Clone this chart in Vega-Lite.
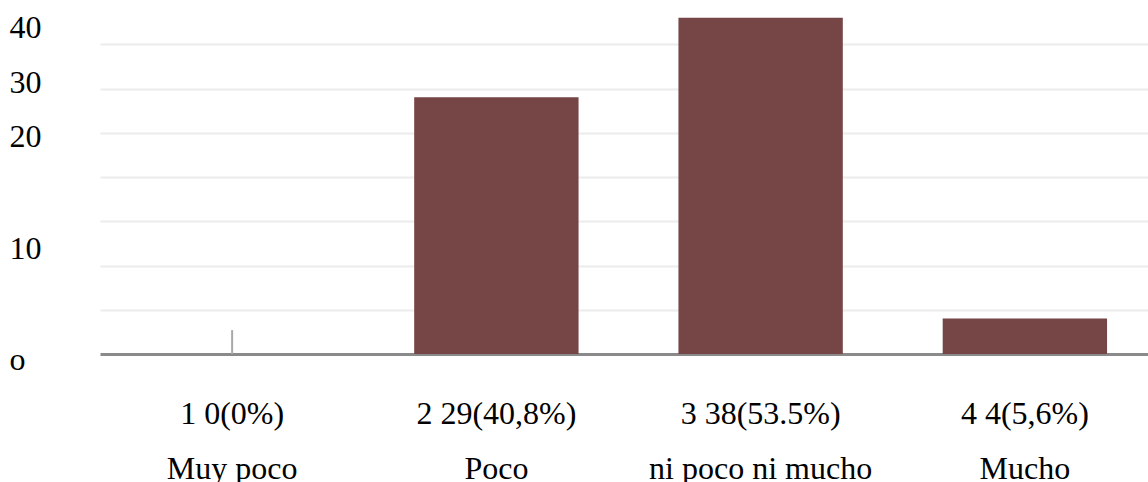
{
  "$schema": "https://vega.github.io/schema/vega-lite/v6.json",
  "width": 1057,
  "height": 354,
  "autosize": {"type": "none"},
  "padding": {"left": 100, "top": 0, "right": 0, "bottom": 128},
  "background": "white",
  "config": {"view": {"stroke": null}},
  "datasets": {
    "answers": [
      {"cat": "1 0(0%)|Muy poco", "count": 0},
      {"cat": "2 29(40,8%)|Poco", "count": 29},
      {"cat": "3 38(53.5%)|ni poco ni mucho", "count": 38},
      {"cat": "4 4(5,6%)|Mucho", "count": 4}
    ],
    "stub": [{"cat": "1 0(0%)|Muy poco", "lo": 0, "hi": 2.7}]
  },
  "encoding": {
    "x": {
      "field": "cat",
      "type": "nominal",
      "sort": null,
      "scale": {
        "domain": ["1 0(0%)|Muy poco", "2 29(40,8%)|Poco", "3 38(53.5%)|ni poco ni mucho", "4 4(5,6%)|Mucho"],
        "paddingInner": 0.378,
        "paddingOuter": 0.189
      },
      "axis": {
        "title": null,
        "labelExpr": "split(datum.label, '|')",
        "labelAngle": 0,
        "ticks": false,
        "domainColor": "#8a8a8a",
        "domainWidth": 3,
        "labelFont": "Liberation Serif",
        "labelFontSize": 32,
        "labelColor": "#000000",
        "labelLineHeight": 55,
        "labelPadding": 44,
        "labelLimit": 0,
        "labelOverlap": false
      }
    }
  },
  "layer": [
    {
      "data": {"name": "answers"},
      "mark": {"type": "bar", "color": "#764545"},
      "encoding": {
        "y": {
          "field": "count",
          "type": "quantitative",
          "scale": {"domain": [0, 40], "nice": false},
          "axis": {
            "orient": "left",
            "title": null,
            "values": [5, 10, 15, 20, 25, 30, 35],
            "labels": false,
            "ticks": false,
            "domain": false,
            "grid": true,
            "gridColor": "#ececec",
            "gridWidth": 2
          }
        }
      }
    },
    {
      "data": {"name": "stub"},
      "mark": {"type": "rule", "color": "#a8a8a8", "strokeWidth": 2},
      "encoding": {
        "y": {
          "field": "lo",
          "type": "quantitative",
          "axis": {
            "orient": "left",
            "title": null,
            "values": [37.51, 31.24, 25.14, 12.54, 0],
            "labelExpr": "datum.value > 35 ? '40' : datum.value > 28 ? '30' : datum.value > 20 ? '20' : datum.value > 5 ? '10' : 'o'",
            "labelOffset": 5,
            "ticks": false,
            "domain": false,
            "grid": false,
            "labelAlign": "left",
            "labelPadding": 91,
            "labelFont": "Liberation Serif",
            "labelFontSize": 32,
            "labelColor": "#000000",
            "labelOverlap": false,
            "labelBound": false,
            "labelFlush": false
          }
        },
        "y2": {"field": "hi"}
      }
    }
  ],
  "resolve": {"axis": {"y": "independent"}}
}
